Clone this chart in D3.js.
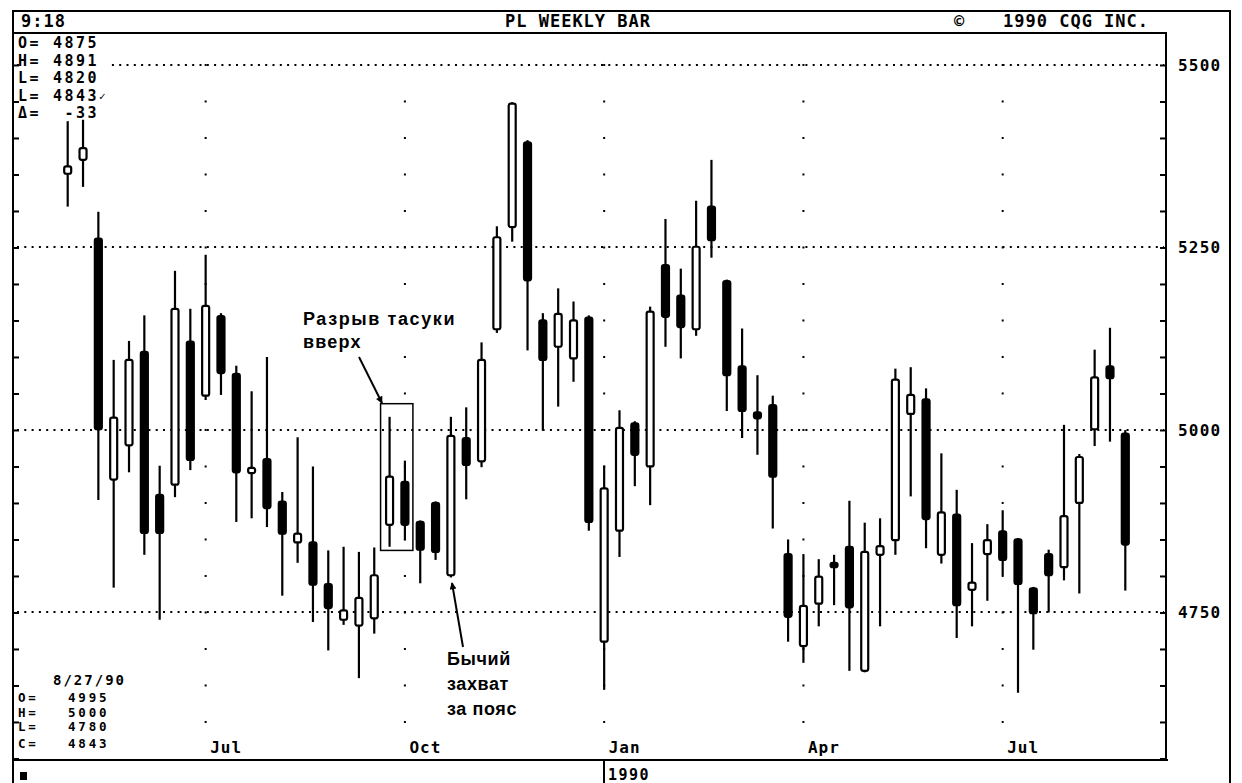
<!DOCTYPE html>
<html>
<head>
<meta charset="utf-8">
<script src="https://cdn.jsdelivr.net/npm/d3@7"></script>
<style>
  body { margin: 0; background: #fff; }
  .mono { font-family: "DejaVu Sans Mono", monospace; font-weight: bold; fill: #000; }
  .note { font-family: "Liberation Sans", Arial, sans-serif; font-weight: bold; font-size: 18px; letter-spacing: 0.6px; fill: #000; }
</style>
</head>
<body>
<script>
// Weekly bars, Monday of each week (May 1989 .. Aug 1990)
var weeks = d3.timeMonday.range(new Date(1989, 4, 1), new Date(1990, 7, 28));

var open = [5351, 5370, 5262, 4932, 4979, 5107, 4911, 4925, 5121, 5047,
            5156, 5077, 4941, 4960, 4902, 4846, 4846, 4789, 4740, 4732,
            4742, 4870, 4929, 4874, 4900, 4801, 4989, 4957, 5138, 5278,
            5394, 5150, 5114, 5098, 5154, 4710, 4862, 5009, 4950, 5226,
            5184, 5138, 5306, 5204, 5087, 5024, 5034, 4830, 4704, 4762,
            4818, 4840, 4670, 4829, 4849, 5022, 5042, 4829, 4884, 4781,
            4830, 4861, 4850, 4783, 4830, 4812, 4900, 5001, 5087, 4995];
var high = [5423, 5425, 5299, 5096, 5122, 5157, 4951, 5218, 5166, 5240,
            5160, 5088, 5053, 5100, 4915, 4990, 4950, 4835, 4840, 4833,
            4839, 5018, 4958, 4876, 4902, 5018, 5031, 5120, 5279, 5449,
            5397, 5160, 5194, 5176, 5157, 4951, 5027, 5012, 5169, 5289,
            5221, 5314, 5370, 5206, 5139, 5075, 5047, 4850, 4830, 4823,
            4829, 4903, 4873, 4879, 5084, 5086, 5057, 4968, 4918, 4845,
            4871, 4890, 4852, 4785, 4836, 5007, 4967, 5110, 5140, 5000];
var low  = [5306, 5333, 4904, 4784, 4942, 4829, 4740, 4908, 4945, 5041,
            5048, 4874, 4879, 4867, 4773, 4818, 4737, 4698, 4733, 4660,
            4721, 4840, 4849, 4790, 4822, 4798, 4905, 4949, 5133, 5258,
            5109, 4999, 5032, 5066, 4862, 4644, 4826, 4923, 4897, 5114,
            5098, 5129, 5236, 5026, 4989, 4966, 4865, 4710, 4681, 4731,
            4760, 4670, 4668, 4731, 4829, 4909, 4838, 4817, 4715, 4731,
            4766, 4801, 4640, 4699, 4750, 4794, 4776, 4978, 4984, 4780];
var close = [5361, 5386, 5001, 5017, 5096, 4859, 4859, 5166, 4959, 5170,
             5078, 4942, 4948, 4893, 4858, 4858, 4788, 4756, 4753, 4770,
             4801, 4936, 4870, 4836, 4833, 4992, 4952, 5096, 5264, 5447,
             5205, 5096, 5159, 5150, 4874, 4920, 5003, 4966, 5162, 5155,
             5141, 5251, 5260, 5075, 5026, 5016, 4936, 4744, 4759, 4799,
             4812, 4757, 4833, 4841, 5069, 5048, 4878, 4887, 4760, 4791,
             4849, 4822, 4789, 4749, 4801, 4882, 4963, 5072, 5071, 4843];

var quarterDates = [new Date(1989, 6, 3), new Date(1989, 9, 2), new Date(1990, 0, 1),
                    new Date(1990, 3, 2), new Date(1990, 6, 2)];
var quarterLabels = ["Jul", "Oct", "Jan", "Apr", "Jul"];
var priceLabels = [4750, 5000, 5250, 5500];
var minorLevels = d3.range(4550, 5501, 50);

// quote block texts
var quoteLabels = ["O=", "H=", "L=", "L=", "\u0394="];
var quoteValues = [4875, 4891, 4820, 4843, -33];
var barDate = "8/27/90";
var barLabels = ["O=", "H=", "L=", "C="];
var barValues = [4995, 5000, 4780, 4843];

var W = 1242, H = 783;
var plot = {left: 14, top: 33, right: 1166, bottom: 760};

var svg = d3.select("body")
            .append("svg")
            .attr("width", W)
            .attr("height", H)
            .style("display", "block");

svg.append("rect").attr("width", W).attr("height", H).attr("fill", "#fff");

// Scales
var x = d3.scaleTime()
  .domain([weeks[0], weeks[weeks.length - 1]])
  .range([67.7, 1125.3]);
var y = d3.scaleLinear()
  .domain([4547.9, 5543.8])
  .range([plot.bottom, plot.top]);

// Horizontal dotted grid
svg.append("g")
  .selectAll("line")
  .data(priceLabels)
  .enter()
  .append("line")
  .attr("x1", plot.left + 3)
  .attr("x2", plot.right - 2)
  .attr("y1", function(d) { return Math.round(y(d)); })
  .attr("y2", function(d) { return Math.round(y(d)); })
  .attr("stroke", "#000")
  .attr("stroke-width", 2)
  .attr("stroke-dasharray", "2,5.3");

// Vertical dotted grid: one dot per 50 points at every quarter
var vgrid = svg.append("g");
quarterDates.forEach(function(q) {
  vgrid.selectAll(null)
    .data(minorLevels.slice(1))
    .enter()
    .append("rect")
    .attr("x", x(q) - 1)
    .attr("y", function(d) { return y(d) - 1; })
    .attr("width", 2)
    .attr("height", 2)
    .attr("fill", "#000");
});

// Candles
var candles = svg.append("g")
  .selectAll("g")
  .data(weeks)
  .enter()
  .append("g");

candles.append("line")
  .attr("x1", function(d) { return x(d); })
  .attr("x2", function(d) { return x(d); })
  .attr("y1", function(d, i) { return y(high[i]); })
  .attr("y2", function(d, i) { return y(low[i]); })
  .attr("stroke", "#000")
  .attr("stroke-width", 2.2);

candles.append("rect")
  .attr("x", function(d) { return x(d) - 3.5; })
  .attr("width", 7)
  .attr("y", function(d, i) { return y(Math.max(open[i], close[i])); })
  .attr("height", function(d, i) {
    return Math.max(3, y(Math.min(open[i], close[i])) - y(Math.max(open[i], close[i])));
  })
  .attr("rx", 2)
  .attr("fill", function(d, i) { return close[i] >= open[i] ? "#fff" : "#000"; })
  .attr("stroke", "#000")
  .attr("stroke-width", 2.2);

// Right axis: inward ticks + price labels
var rightTicks = svg.append("g")
  .attr("transform", "translate(" + plot.right + ",0)")
  .call(d3.axisLeft(y).tickValues(minorLevels).tickSize(6).tickFormat(""));
rightTicks.select(".domain").remove();
rightTicks.selectAll("line").attr("stroke-width", 2);

var rightLabels = svg.append("g")
  .attr("transform", "translate(" + plot.right + ",0)")
  .call(d3.axisRight(y).tickValues(priceLabels).tickSize(0).tickPadding(12).tickFormat(d3.format("d")));
rightLabels.select(".domain").remove();
rightLabels.selectAll("text")
  .attr("class", "mono")
  .attr("font-family", null)
  .attr("font-size", null)
  .style("font-size", "16px")
  .style("letter-spacing", "1.2px");

// Left axis ticks
var leftTicks = svg.append("g")
  .attr("transform", "translate(" + plot.left + ",0)")
  .call(d3.axisRight(y).tickValues(minorLevels).tickSize(5).tickFormat(""));
leftTicks.select(".domain").remove();
leftTicks.selectAll("line").attr("stroke-width", 2);

// Bottom month labels (inside the plot, above the axis line)
var bottom = svg.append("g")
  .attr("transform", "translate(0," + plot.bottom + ")")
  .call(d3.axisTop(x).tickValues(quarterDates).tickSize(0).tickPadding(7)
    .tickFormat(function(d, i) { return quarterLabels[i]; }));
bottom.select(".domain").remove();
bottom.selectAll("text")
  .attr("class", "mono")
  .attr("font-family", null)
  .attr("font-size", null)
  .attr("text-anchor", "start")
  .attr("x", 4)
  .style("font-size", "16px")
  .style("letter-spacing", "1px");

// Frame
var frame = svg.append("g").attr("stroke", "#000").attr("stroke-width", 2).attr("fill", "none");
frame.append("path").attr("d", "M13,783V11H1230V783");
frame.append("path").attr("d", "M13,33H" + plot.right + "V" + plot.bottom);
frame.append("path").attr("d", "M13," + plot.bottom + "H" + (plot.right + 2));
frame.append("path").attr("d", "M" + Math.round(x(quarterDates[2])) + "," + plot.bottom + "V783");

// Header texts
function mono(xp, yp, size, ls, str) {
  return svg.append("text").attr("class", "mono").attr("x", xp).attr("y", yp)
    .style("font-size", size + "px").style("letter-spacing", ls + "px").text(str);
}
mono(21, 27, 17, 1, "9:18");
mono(578, 27, 17, 1, "PL WEEKLY BAR").attr("text-anchor", "middle");
mono(954, 27, 17, 1, "\u00A9");
mono(1003, 27, 17, 1, "1990 CQG INC.");

// Top-left quote block (white backing hides the 5500 grid line)
svg.append("rect").attr("x", 21).attr("y", 34).attr("width", 90).attr("height", 84).attr("fill", "#fff");
quoteLabels.forEach(function(l, i) {
  mono(18, 48 + i * 17.5, 15, 2.5, l);
  mono(99, 48 + i * 17.5, 15, 2.5, quoteValues[i]).attr("text-anchor", "end");
});
mono(99, 100, 11, 0, "\u2713");

// Bottom-left bar info
mono(53, 685, 14, 2, barDate);
var barRowY = [702, 716.5, 731, 747.5];
barLabels.forEach(function(l, i) {
  mono(18, barRowY[i], 12.5, 2.8, l);
  mono(68, barRowY[i], 12.5, 2.8, barValues[i]);
});

// Bottom status row
svg.append("rect").attr("x", 20).attr("y", 772).attr("width", 7).attr("height", 8).attr("fill", "#000");
mono(608, 780, 15, 1.5, "1990");

// Annotations
var defs = svg.append("defs");
defs.append("marker")
  .attr("id", "head")
  .attr("viewBox", "0 0 10 10")
  .attr("refX", 9).attr("refY", 5)
  .attr("markerWidth", 12).attr("markerHeight", 7)
  .attr("markerUnits", "userSpaceOnUse")
  .attr("orient", "auto")
  .append("path").attr("d", "M0,0L10,5L0,10Z").attr("fill", "#000");

// tasuki gap box around bars 21-22
svg.append("rect")
  .attr("x", x(weeks[21]) - 9)
  .attr("y", y(5036))
  .attr("width", x(weeks[22]) - x(weeks[21]) + 17)
  .attr("height", y(4835) - y(5036))
  .attr("fill", "none")
  .attr("stroke", "#000")
  .attr("stroke-width", 1.5);

svg.append("text").attr("class", "note").attr("x", 303).attr("y", 325)
  .style("letter-spacing", "1.6px").text("Разрыв тасуки");
svg.append("text").attr("class", "note").attr("x", 303).attr("y", 348)
  .style("letter-spacing", "1.2px").text("вверх");
svg.append("line")
  .attr("x1", 359).attr("y1", 357).attr("x2", 382).attr("y2", 403)
  .attr("stroke", "#000").attr("stroke-width", 2).attr("marker-end", "url(#head)");

svg.append("line")
  .attr("x1", 463).attr("y1", 647).attr("x2", 452).attr("y2", 583)
  .attr("stroke", "#000").attr("stroke-width", 2).attr("marker-end", "url(#head)");
svg.append("text").attr("class", "note").attr("x", 447).attr("y", 665).text("Бычий");
svg.append("text").attr("class", "note").attr("x", 447).attr("y", 690).text("захват");
svg.append("text").attr("class", "note").attr("x", 447).attr("y", 715).text("за пояс");
</script>
</body>
</html>
